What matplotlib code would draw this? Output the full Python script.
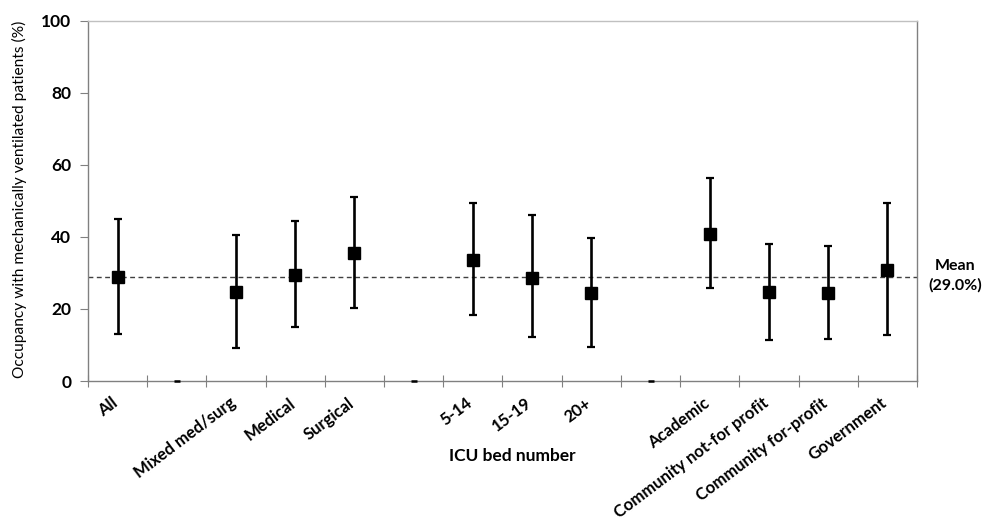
import matplotlib
matplotlib.use("Agg")
import matplotlib.pyplot as plt
import matplotlib.transforms as mtransforms
import numpy as np

plt.rcParams['font.family'] = ['Lato', 'DejaVu Sans']

# Categories ("" = spacer slot between groups)
categories = ["All", "", "Mixed med/surg", "Medical", "Surgical", "",
              "5-14", "15-19", "20+", "",
              "Academic", "Community not-for profit", "Community for-profit", "Government"]
# Mean occupancy (%) with mechanically ventilated patients
means = [28.9, 0, 24.7, 29.4, 35.5, 0, 33.7, 28.6, 24.3, 0, 40.9, 24.6, 24.3, 30.7]
upper = [44.9, 0, 40.4, 44.4, 51.2, 0, 49.5, 46.0, 39.8, 0, 56.3, 38.0, 37.5, 49.3]
lower = [13.0, 0, 9.2, 15.0, 20.3, 0, 18.3, 12.1, 9.3, 0, 25.8, 11.4, 11.6, 12.7]
overall_mean = 29.0
yticks = [0, 20, 40, 60, 80, 100]

fig = plt.figure(figsize=(9.94, 5.23), dpi=100)
ax = fig.add_axes([88/994, 1-381/523, (917-88)/994, (381-20.7)/523])

n = len(categories)
x = np.arange(n) + 0.5
is_gap = np.array([c == "" for c in categories])
m = np.array(means, dtype=float)
up = np.array(upper, dtype=float)
lo = np.array(lower, dtype=float)

ax.axhline(overall_mean, color='#404040', lw=1.0, ls=(0, (3.5, 2.5)), zorder=1)

xd = x[~is_gap]
ax.errorbar(xd, m[~is_gap], yerr=[m[~is_gap]-lo[~is_gap], up[~is_gap]-m[~is_gap]],
            fmt='s', color='black', ms=9, elinewidth=1.9, capsize=3, capthick=1.6,
            zorder=3)
# spacer slots show a tiny dash at zero
ax.plot(x[is_gap], m[is_gap], ls='none', marker='_', ms=5, mew=1.8, color='black',
        zorder=3, clip_on=False)

ax.set_xlim(0, n)
ax.set_ylim(0, 100)
ax.set_yticks(yticks)
ax.set_yticklabels([str(v) for v in yticks], fontweight='bold', fontsize=12.5)
ax.tick_params(axis='y', direction='out', length=6, width=0.8, color='#808080', pad=6)

ax.set_xticks(np.arange(n + 1))
ax.set_xticklabels([])
ax.set_xticks(x, minor=True)
ax.set_xticklabels(categories, minor=True, rotation=37, ha='right', va='top',
                   rotation_mode='anchor', fontweight='bold', fontsize=12)
ax.tick_params(axis='x', which='major', direction='inout', length=9, width=0.8, color='#808080')
ax.tick_params(axis='x', which='minor', length=0, pad=10)
offset = mtransforms.ScaledTranslation(-7/100, 0, fig.dpi_scale_trans)
for lab in ax.get_xticklabels(minor=True):
    lab.set_transform(lab.get_transform() + offset)

for side in ['left', 'bottom', 'right']:
    ax.spines[side].set_color('#808080')
    ax.spines[side].set_linewidth(1.0)
ax.spines['top'].set_color('#c0c0c0')
ax.spines['top'].set_linewidth(1.0)

fig.text(19/994, 1-199/523, "Occupancy with mechanically ventilated patients (%)",
         rotation=90, ha='center', va='center', fontsize=11.2)
fig.text(512/994, 1-456/523, "ICU bed number", ha='center', va='center',
         fontsize=12.5, fontweight='bold')
fig.text(955/994, 1-276/523, "Mean\n(29.0%)", ha='center', va='center',
         fontsize=11.5, fontweight='bold', linespacing=1.4)

fig.savefig("out.png", dpi=100, facecolor='white')
